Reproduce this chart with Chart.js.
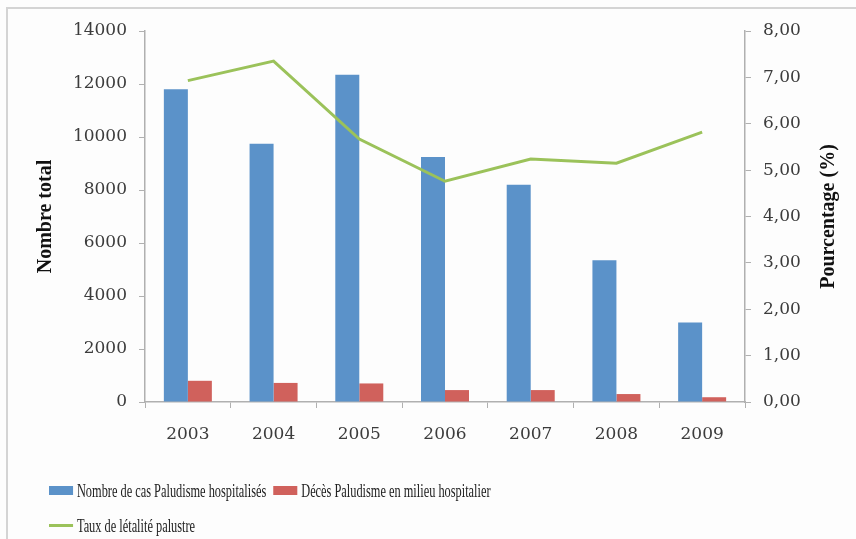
<!DOCTYPE html>
<html>
<head>
<meta charset="utf-8">
<script src="https://cdn.jsdelivr.net/npm/chart.js@4"></script>
<style>
  html, body { margin: 0; padding: 0; background: #fff; }
  #wrap { position: relative; width: 856px; height: 539px; overflow: hidden; background: #fdfdfd; }
  #frame { position: absolute; left: 6px; top: 7px; width: 860px; height: 540px;
           border-top: 2px solid #d4d4d4; border-left: 2px solid #d4d4d4; }
  canvas { position: absolute; left: 0; top: 0; }
  .legend { position: absolute; left: 49px; font-family: "Liberation Serif", serif; font-size: 19px;
            color: #222; transform: scaleX(0.65); transform-origin: left center; white-space: nowrap; }
  .legend span.item { display: inline-flex; align-items: center; margin-right: 6px; }
  .legend i { display: inline-block; width: 37px; margin-right: 6px; }
</style>
</head>
<body>
<div id="wrap">
  <div id="frame"></div>
  <canvas id="chart" width="856" height="539"></canvas>
  <div class="legend" style="top: 478px;">
    <span class="item"><i style="height:9px;background:#5b92c9"></i>Nombre de cas Paludisme hospitalisés</span>
    <span class="item"><i style="height:9px;background:#d0615c"></i>Décès Paludisme en milieu hospitalier</span>
  </div>
  <div class="legend" style="top: 510px;">
    <span class="item"><i style="height:3px;background:#9bc25a"></i>Taux de létalité palustre</span>
  </div>
</div>
<script>
const years = ["2003", "2004", "2005", "2006", "2007", "2008", "2009"]
const casHospitalises = [11800, 9750, 12350, 9250, 8200, 5350, 3000]
const decesHospitaliers = [800, 720, 700, 450, 450, 300, 180]
const tauxLetalite = [6.93, 7.35, 5.67, 4.76, 5.24, 5.15, 5.82]

const axisColor = "#b0b0b0"
const tickFont = { family: "DejaVu Serif", size: 17 }

// rotated axis titles, both reading bottom to top
const axisTitles = {
  id: "axisTitles",
  afterDraw(chart) {
    const ctx = chart.ctx
    const area = chart.chartArea
    const midY = (area.top + area.bottom) / 2
    ctx.save()
    ctx.font = "bold 20px 'Liberation Serif'"
    ctx.fillStyle = "#111"
    ctx.textAlign = "center"
    ctx.textBaseline = "middle"
    const draw = (text, x) => {
      ctx.save()
      ctx.translate(x, midY)
      ctx.rotate(-Math.PI / 2)
      ctx.fillText(text, 0, 0)
      ctx.restore()
    }
    draw("Nombre total", 46)
    draw("Pourcentage (%)", 829)
    ctx.restore()
  }
}

new Chart(document.getElementById("chart"), {
  data: {
    labels: years,
    datasets: [
      {
        type: "line",
        label: "Taux de létalité palustre",
        data: tauxLetalite,
        yAxisID: "y1",
        borderColor: "#9bc25a",
        borderWidth: 3,
        pointRadius: 0,
        tension: 0,
        order: 0
      },
      {
        type: "bar",
        label: "Nombre de cas Paludisme hospitalisés",
        data: casHospitalises,
        yAxisID: "y",
        backgroundColor: "#5b92c9",
        categoryPercentage: 0.56,
        barPercentage: 1,
        order: 1
      },
      {
        type: "bar",
        label: "Décès Paludisme en milieu hospitalier",
        data: decesHospitaliers,
        yAxisID: "y",
        backgroundColor: "#d0615c",
        categoryPercentage: 0.56,
        barPercentage: 1,
        order: 1
      }
    ]
  },
  options: {
    responsive: false,
    animation: false,
    layout: { padding: { top: 31, left: 0, right: 0, bottom: 0 } },
    plugins: { legend: { display: false }, tooltip: { enabled: false } },
    scales: {
      x: {
        grid: { offset: true, drawOnChartArea: false, tickLength: 6, color: axisColor },
        border: { color: axisColor, width: 1.5 },
        ticks: { font: tickFont, color: "#3c3c3c", padding: 16 },
        afterFit(scale) { scale.height = 137 }
      },
      y: {
        position: "left",
        min: 0,
        max: 14000,
        grid: { drawOnChartArea: false, tickLength: 6, color: axisColor },
        border: { color: axisColor, width: 1.5 },
        ticks: {
          stepSize: 2000,
          font: tickFont,
          color: "#3c3c3c",
          padding: 12,
          callback: (v) => String(v)
        },
        afterFit(scale) { scale.width = 145 }
      },
      y1: {
        position: "right",
        min: 0,
        max: 8,
        grid: { drawOnChartArea: false, tickLength: 6, color: axisColor },
        border: { color: axisColor, width: 1.5 },
        ticks: {
          stepSize: 1,
          font: tickFont,
          color: "#3c3c3c",
          padding: 12,
          callback: (v) => v.toFixed(2).replace(".", ",")
        },
        afterFit(scale) { scale.width = 111 }
      }
    }
  },
  plugins: [axisTitles]
})
</script>
</body>
</html>
